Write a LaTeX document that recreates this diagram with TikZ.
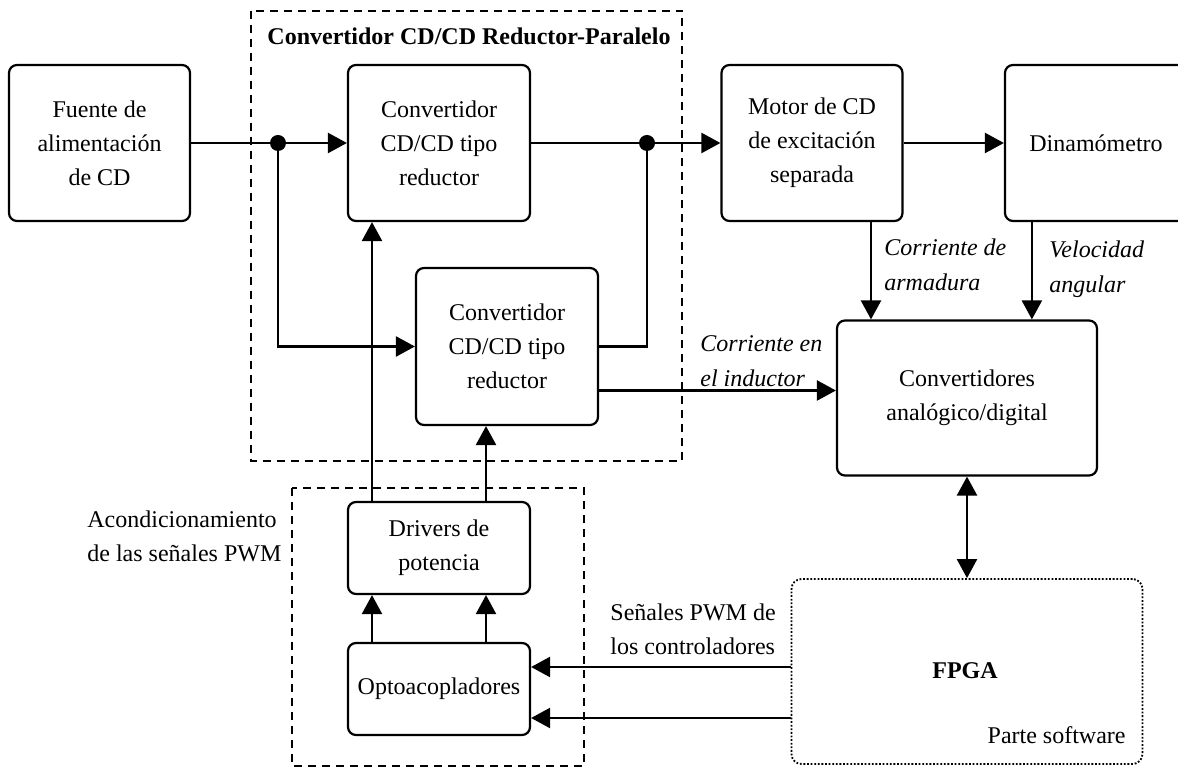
\documentclass[tikz,border=0pt]{standalone}
\usepackage{fontspec}
\setmainfont{Liberation Serif}
\usetikzlibrary{arrows.meta}
\begin{document}
\begin{tikzpicture}[x=0.5pt,y=-0.5pt,
  txt/.style={font=\fontsize{12}{17}\selectfont},
  blk/.style={draw, line width=1.1pt, rounded corners=4pt, align=center,
    inner sep=0pt, txt},
  swblk/.style={draw, line width=0.9pt, rounded corners=5pt,
    dash pattern=on 0.9pt off 0.9pt, inner sep=0pt},
  grp/.style={draw, line width=1pt, dash pattern=on 4pt off 3pt},
  lbl/.style={align=left, inner sep=0pt, font=\fontsize{12}{17.5}\selectfont\itshape},
  plain/.style={align=left, inner sep=0pt, font=\fontsize{12}{17}\selectfont},
  ln/.style={line width=1.2pt},
  arr/.style={ln, -{Triangle[length=9.5pt,width=10pt]}},
  biarr/.style={ln, {Triangle[length=9.5pt,width=10pt]}-{Triangle[length=9.5pt,width=10pt]}},
  dot/.style={circle, fill, inner sep=0pt, minimum size=8pt}
]
\useasboundingbox (0,0) rectangle (1178,769);

% group frames
\draw[grp] (251,10.7) rectangle (682,461);
\draw[grp] (292,488) rectangle (583.5,766);
\node[inner sep=0pt, font=\fontsize{12}{17}\selectfont\bfseries] (title) at (469,36)
  {Convertidor CD/CD Reductor-Paralelo};

% blocks
\node[blk, minimum width=90.5pt, minimum height=78pt] (fuente) at (99.5,143)
  {Fuente de\\alimentación\\de CD};
\node[blk, minimum width=91pt, minimum height=78pt] (conv1) at (439,143)
  {Convertidor\\CD/CD tipo\\reductor};
\node[blk, minimum width=90.5pt, minimum height=78pt] (motor) at (812,143)
  {Motor de CD\\de excitación\\separada};
\node[blk, minimum width=91pt, minimum height=78pt] (dinamo) at (1096,143)
  {Dinamómetro};
\node[blk, minimum width=91pt, minimum height=78.5pt] (conv2) at (507,346.5)
  {Convertidor\\CD/CD tipo\\reductor};
\node[blk, minimum width=130pt, minimum height=77.5pt] (adc) at (967,398)
  {Convertidores\\analógico/digital};
\node[blk, minimum width=91pt, minimum height=46pt] (drivers) at (439,548)
  {Drivers de\\potencia};
\node[blk, minimum width=91pt, minimum height=46pt] (opto) at (439,689)
  {Optoacopladores};
\node[swblk, minimum width=175.5pt, minimum height=92.5pt] (fpga) at (967,671.5) {};
\node[inner sep=0pt, font=\fontsize{12}{17}\selectfont\bfseries] (fpgatxt) at (965,671) {FPGA};
\node[plain, anchor=east] (sw) at (1126,735) {Parte software};

% junctions
\node[dot] (d1) at (278,143) {};
\node[dot] (d2) at (647,143) {};

% power path
\draw[arr] (fuente.east) -- (conv1.west);
\draw[arr] (d1.center) |- (conv2.west);
\draw[arr] (conv1.east) -- (motor.west);
\draw[ln] (conv2.east) -| (d2.center);
\draw[arr] (motor.east) -- (dinamo.west);

% measured signals
\coordinate (iL) at ([yshift=-22pt]conv2.east);
\draw[arr] (iL) -- (iL -| adc.west);
\coordinate (ia) at ([xshift=29.5pt]motor.south);
\draw[arr] (ia) -- (ia |- adc.north);
\coordinate (w) at ([xshift=14pt]dinamo.south west);
\draw[arr] (w) -- (w |- adc.north);
\draw[biarr] (adc.south) -- (fpga.north);

% gate drive path
\coordinate (g1) at ([xshift=-33.5pt]drivers.north);
\coordinate (g2) at ([xshift=23.5pt]drivers.north);
\draw[arr] (g1) -- (g1 |- conv1.south);
\draw[arr] (g2) -- (g2 |- conv2.south);
\coordinate (o1) at ([xshift=-33.5pt]opto.north);
\coordinate (o2) at ([xshift=23.5pt]opto.north);
\draw[arr] (o1) -- (o1 |- drivers.south);
\draw[arr] (o2) -- (o2 |- drivers.south);
\coordinate (p1) at ([yshift=11pt]opto.east);
\coordinate (p2) at ([yshift=-14.5pt]opto.east);
\draw[arr] (p1 -| fpga.west) -- (p1);
\draw[arr] (p2 -| fpga.west) -- (p2);

% labels
\node[lbl, anchor=west] (lia) at (884,264.5) {Corriente de\\armadura};
\node[lbl, anchor=west] (lw) at (1049,269) {Velocidad\\angular};
\node[lbl, anchor=west] (liL) at (700,361) {Corriente en\\el inductor};
\node[plain, anchor=west] (lacond) at (87,536.5) {Acondicionamiento\\de las señales PWM};
\node[plain, anchor=west] (lpwm) at (610,629.5) {Señales PWM de\\los controladores};
\end{tikzpicture}
\end{document}
